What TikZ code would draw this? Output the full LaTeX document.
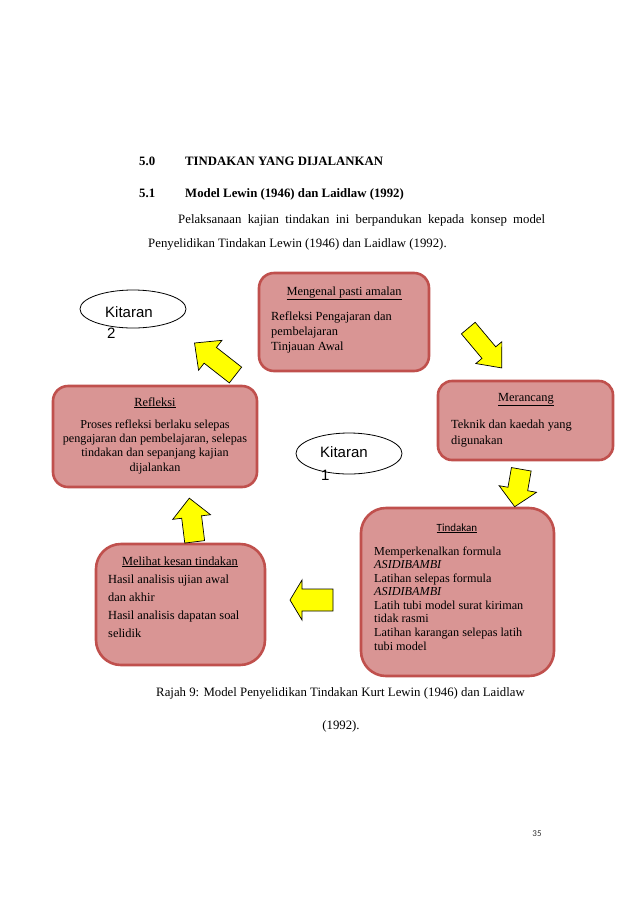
\documentclass[tikz,border=0pt]{standalone}
\usepackage{fontspec}
\setmainfont{Liberation Serif}
\newfontfamily\arialf{Liberation Sans}
\newfontfamily\calib{Carlito}
\definecolor{boxfill}{HTML}{D99594}
\definecolor{boxline}{HTML}{C0504D}
\definecolor{arrfill}{HTML}{FFFF00}
\tikzset{
  rbox/.style={draw=boxline, fill=boxfill, line width=2.6pt, inner sep=0pt},
  kit/.style={draw=black, fill=white, ellipse, line width=0.8pt, inner sep=0pt},
  yarr/.style={draw=black, fill=arrfill, line width=0.7pt, line join=miter},
  hd/.style={anchor=base west, inner sep=0pt, font=\fontsize{12.8}{15}\selectfont\bfseries},
  bt/.style={anchor=base west, inner sep=0pt, font=\fontsize{12.8}{15}\selectfont},
  tx/.style={inner sep=0pt, font=\fontsize{12.4}{14}\selectfont},
  kt/.style={anchor=base west, inner sep=0pt, font=\fontsize{15}{17}\selectfont\arialf},
}
\usetikzlibrary{shapes.geometric}
\begin{document}
\begin{tikzpicture}[x=1pt,y=-1pt]
\useasboundingbox (0,0) rectangle (638,903);
\fill[white] (0,0) rectangle (638,903);

% headings
\node[hd] (h50) at (139,165) {5.0};
\node[hd] (h50t) at (185,165) {TINDAKAN YANG DIJALANKAN};
\node[hd] (h51) at (139,197) {5.1};
\node[hd] (h51t) at (185,197) {Model Lewin (1946) dan Laidlaw (1992)};
\node[bt] (p1) at (178,223) {\makebox[367pt][s]{Pelaksanaan kajian tindakan ini berpandukan kepada konsep model}};
\node[bt] (p2) at (148,247) {Penyelidikan Tindakan Lewin (1946) dan Laidlaw (1992).};

% boxes
\node[rbox, rounded corners=15pt, minimum width=170pt, minimum height=98pt] (mengenal) at (344,322) {};
\node[rbox, rounded corners=15pt, minimum width=204pt, minimum height=101pt] (refleksi) at (155,436.5) {};
\node[rbox, rounded corners=14pt, minimum width=175pt, minimum height=79pt] (merancang) at (525.5,420.5) {};
\node[rbox, rounded corners=25pt, minimum width=193pt, minimum height=168pt] (tindakan) at (457.5,592) {};
\node[rbox, rounded corners=25pt, minimum width=169pt, minimum height=121pt] (melihat) at (180.5,604.5) {};

% box texts (multi-line nodes: base anchor = last line's baseline)
\node[tx, anchor=base] (mgt) at (344,295) {\underline{Mengenal pasti amalan}};
\node[tx, anchor=base west, align=left, font=\fontsize{12.4}{15}\selectfont] (mgb) at (271,350) {Refleksi Pengajaran dan\\pembelajaran\\Tinjauan Awal};

\node[tx, anchor=base] (rft) at (155,406) {\underline{Refleksi}};
\node[tx, anchor=base, align=center, font=\fontsize{12.2}{14.3}\selectfont] (rfb) at (155,471) {Proses refleksi berlaku selepas\\pengajaran dan pembelajaran, selepas\\tindakan dan sepanjang kajian\\dijalankan};

\node[tx, anchor=base] (mrt) at (526,401) {\underline{Merancang}};
\node[tx, anchor=base west, align=left, font=\fontsize{12.4}{16}\selectfont] (mrb) at (451,444) {Teknik dan kaedah yang\\digunakan};

\node[tx, anchor=base, font=\fontsize{11}{13}\selectfont\calib] (tdt) at (457,531) {\underline{Tindakan}};
\node[tx, anchor=base west, align=left, font=\fontsize{12.2}{13.57}\selectfont] (tdb) at (374,650) {Memperkenalkan formula\\\textit{ASIDIBAMBI}\\Latihan selepas formula\\\textit{ASIDIBAMBI}\\Latih tubi model surat kiriman\\tidak rasmi\\Latihan karangan selepas latih\\tubi model};

\node[tx, anchor=base] (mlt) at (180,565) {\underline{Melihat kesan tindakan}};
\node[tx, anchor=base west, align=left, font=\fontsize{12.4}{18}\selectfont] (mlb) at (108,637) {Hasil analisis ujian awal\\dan akhir\\Hasil analisis dapatan soal\\selidik};

% ellipses
\node[kit, minimum width=106pt, minimum height=38pt] (k2) at (133,309) {};
\node[kt] (k2a) at (105,317) {Kitaran};
\node[kt] (k2b) at (107,338) {2};
\node[kit, minimum width=106pt, minimum height=41pt] (k1) at (349,453.5) {};
\node[kt] (k1a) at (320,457) {Kitaran};
\node[kt] (k1b) at (321,480) {1};

% block arrows
\draw[yarr, shift={(485,348)}, rotate=-50] (-26,-9) -- (6,-9) -- (6,-17) -- (26,0) -- (6,17) -- (6,9) -- (-26,9) -- cycle;
\draw[yarr, shift={(518,488)}, rotate=-100] (-19,-10) -- (1,-10) -- (1,-19) -- (19,0) -- (1,19) -- (1,10) -- (-19,10) -- cycle;
\draw[yarr, shift={(311.5,600)}, rotate=180] (-21.5,-11) -- (9.5,-11) -- (9.5,-20) -- (21.5,0) -- (9.5,20) -- (9.5,11) -- (-21.5,11) -- cycle;
\draw[yarr, shift={(192,520)}, rotate=97] (-22,-10) -- (3,-10) -- (3,-19) -- (22,0) -- (3,19) -- (3,10) -- (-22,10) -- cycle;
\draw[yarr, shift={(215,359)}, rotate=142] (-26,-10) -- (6,-10) -- (6,-19) -- (26,0) -- (6,19) -- (6,10) -- (-26,10) -- cycle;

% caption
\node[tx, anchor=base, font=\fontsize{12.8}{15}\selectfont] (cap1) at (340.5,696) {Rajah 9: Model Penyelidikan Tindakan Kurt Lewin (1946) dan Laidlaw};
\node[tx, anchor=base, font=\fontsize{12.8}{15}\selectfont] (cap2) at (341,729) {(1992).};

\node[anchor=base, inner sep=0pt, font=\fontsize{9}{10}\selectfont\calib, text=black!80] (pg) at (537,836) {35};
\end{tikzpicture}
\end{document}
